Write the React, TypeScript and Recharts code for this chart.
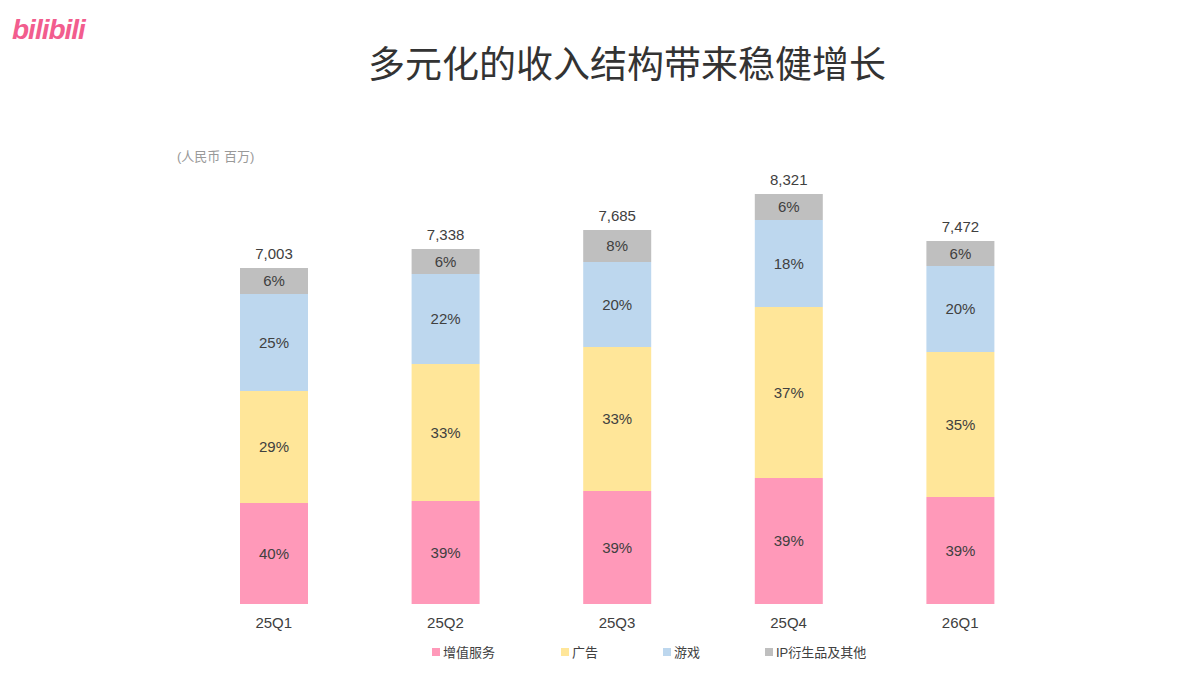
import { BarChart, Bar, XAxis, YAxis, LabelList } from 'recharts';

// quarters and segment heights (bars are not drawn to scale in the source)
const quarters = ['25Q1', '25Q2', '25Q3', '25Q4', '26Q1'];
const totals = ['7,003', '7,338', '7,685', '8,321', '7,472'];
const vas = [101, 103, 113, 126, 107];
const ads = [112, 137, 144, 171, 145];
const games = [97, 90, 85, 87, 86];
const ip = [26, 25, 32, 26, 25];
const vasPct = ['40%', '39%', '39%', '39%', '39%'];
const adsPct = ['29%', '33%', '33%', '37%', '35%'];
const gamesPct = ['25%', '22%', '20%', '18%', '20%'];
const ipPct = ['6%', '6%', '8%', '6%', '6%'];

const COLORS = { vas: '#FF99B9', ads: '#FFE699', games: '#BDD7EE', ip: '#BFBFBF' };
const FONT = 'Arial, "Liberation Sans", "Noto Sans CJK SC", sans-serif';

const data = quarters.map((q, i) => ({ q, vas: vas[i], ads: ads[i], games: games[i], ip: ip[i], idx: i }));

const pctLabel = (arr: string[]) => (props: any) => {
  const { x, y, width, height, index } = props;
  return (
    <text x={x + width / 2} y={y + height / 2 + 5} textAnchor="middle" fontSize={15} fill="#404040" fontFamily={FONT}>
      {arr[index]}
    </text>
  );
};

const totalLabel = (props: any) => {
  const { x, y, width, index } = props;
  return (
    <text x={x + width / 2} y={y - 9} textAnchor="middle" fontSize={15} fill="#404040" fontFamily={FONT}>
      {totals[index]}
    </text>
  );
};

const legendItems = [
  { name: '增值服务', color: COLORS.vas, x: 432 },
  { name: '广告', color: COLORS.ads, x: 561 },
  { name: '游戏', color: COLORS.games, x: 663 },
  { name: 'IP衍生品及其他', color: COLORS.ip, x: 765 },
];

export default function App() {
  return (
    <div style={{ position: 'absolute', left: 0, top: 0, width: 1198, height: 693, background: '#fff', fontFamily: FONT }}>
      <div style={{ position: 'absolute', left: 12, top: 14, color: '#F25D8E', fontSize: 28, fontWeight: 'bold', fontStyle: 'italic', letterSpacing: -1 }}>
        bilibili
      </div>
      <div style={{ position: 'absolute', left: 0, width: 1254, top: 35, textAlign: 'center', fontSize: 37, color: '#333' }}>
        多元化的收入结构带来稳健增长
      </div>
      <div style={{ position: 'absolute', left: 177, top: 146, fontSize: 13, color: '#999' }}>(人民币 百万)</div>
      <BarChart width={1198} height={693} data={data} margin={{ top: 184, right: 152, bottom: 59, left: 188 }} barSize={68}>
        <XAxis dataKey="q" axisLine={false} tickLine={false} height={30} tickMargin={7} tick={{ fontSize: 15, fill: '#404040', fontFamily: FONT }} />
        <YAxis hide width={0} domain={[0, 420]} />
        <Bar dataKey="vas" stackId="a" fill={COLORS.vas} isAnimationActive={false}>
          <LabelList content={pctLabel(vasPct)} />
        </Bar>
        <Bar dataKey="ads" stackId="a" fill={COLORS.ads} isAnimationActive={false}>
          <LabelList content={pctLabel(adsPct)} />
        </Bar>
        <Bar dataKey="games" stackId="a" fill={COLORS.games} isAnimationActive={false}>
          <LabelList content={pctLabel(gamesPct)} />
        </Bar>
        <Bar dataKey="ip" stackId="a" fill={COLORS.ip} isAnimationActive={false}>
          <LabelList content={pctLabel(ipPct)} />
          <LabelList content={totalLabel} />
        </Bar>
      </BarChart>
      {legendItems.map((it) => (
        <div key={it.name} style={{ position: 'absolute', left: it.x, top: 642, display: 'flex', alignItems: 'center', fontSize: 13, color: '#404040' }}>
          <span style={{ width: 8, height: 8, background: it.color, marginRight: 3, display: 'inline-block' }} />
          {it.name}
        </div>
      ))}
    </div>
  );
}
